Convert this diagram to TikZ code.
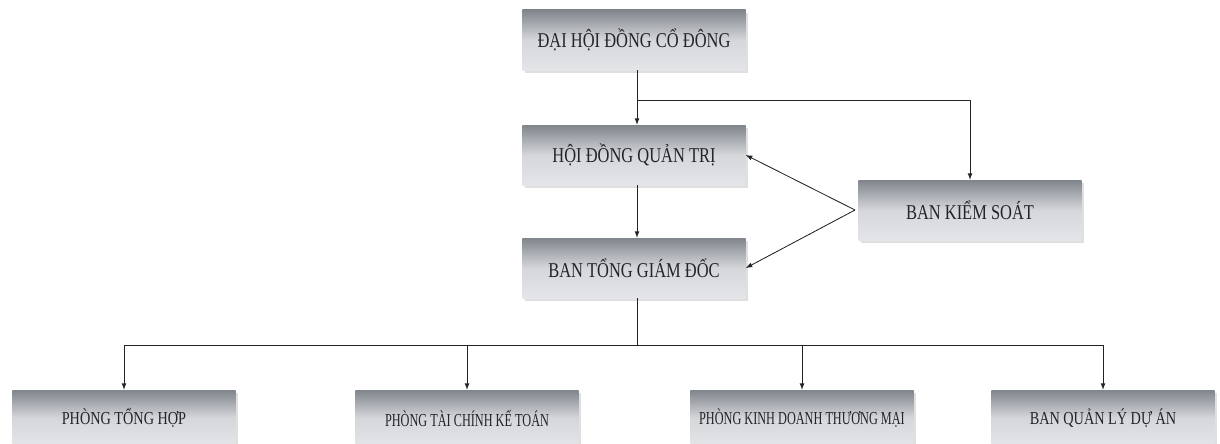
\documentclass[tikz,border=0pt]{standalone}
\usepackage{fontspec}
\setmainfont{Liberation Serif}[FakeStretch=0.78]
\usepackage{tikz}
\usetikzlibrary{arrows,shapes,shadows,positioning,calc}
\definecolor{boxtop}{RGB}{128,133,140}
\definecolor{boxbot}{RGB}{228,229,232}
\definecolor{ink}{RGB}{35,35,40}
\newcommand{\squeeze}[1]{\scalebox{0.86}[1]{#1}}
\tikzstyle{unit}=[rectangle, top color=boxtop, bottom color=boxbot, middle color=boxbot!85!boxtop,
  minimum width=5.575cm, minimum height=1.5cm, inner sep=2pt, text=ink, font=\fontsize{15}{17}\selectfont,
  drop shadow={opacity=0.25, shadow xshift=2pt, shadow yshift=-2pt}]
\tikzstyle{unitlow}=[unit, minimum height=1.4cm, font=\fontsize{13}{15}\selectfont]
\tikzstyle{link}=[-latex, draw=ink, line width=0.6pt]

\begin{document}
\begin{tikzpicture}[x=0.025cm, y=-0.025cm]
		\useasboundingbox[fill=white](0,0) rectangle (1220,443);
		\node[unit](DH)at(634,40){ĐẠI HỘI ĐỒNG CỔ ĐÔNG};
		\node[unit](HD)at(634,155){HỘI ĐỒNG QUẢN TRỊ};
		\node[unit](TGD)at(634,268){BAN TỔNG GIÁM ĐỐC};
		\node[unit](KS)at(970,210){BAN KIỂM SOÁT};
		\node[unitlow](TH)at(124,418){PHÒNG TỔNG HỢP};
		\node[unitlow](TC)at(467,418){\squeeze{PHÒNG TÀI CHÍNH KẾ TOÁN}};
		\node[unitlow](KD)at(802,418){\squeeze{PHÒNG KINH DOANH THƯƠNG MẠI}};
		\node[unitlow](QL)at(1103,418){BAN QUẢN LÝ DỰ ÁN};
		\coordinate(J1)at(637,100);
		\coordinate(J2)at(637,345);
		\coordinate(KSL)at(855,210);
		% top level
		\draw[link](DH.south-|J1)--(HD.north-|J1);
		\draw[link](J1)-|(KS.north);
		\draw[link](HD.south-|J1)--(TGD.north-|J1);
		\draw[link](KSL)--(HD.east);
		\draw[link](KSL)--(TGD.east);
		% departments
		\draw[draw=ink, line width=0.6pt](TGD.south-|J2)--(J2);
		\draw[draw=ink, line width=0.6pt](J2-|TH)--(J2-|QL);
		\draw[link](J2-|TH)--(TH.north);
		\draw[link](J2-|TC)--(TC.north);
		\draw[link](J2-|KD)--(KD.north);
		\draw[link](J2-|QL)--(QL.north);
\end{tikzpicture}
\end{document}
